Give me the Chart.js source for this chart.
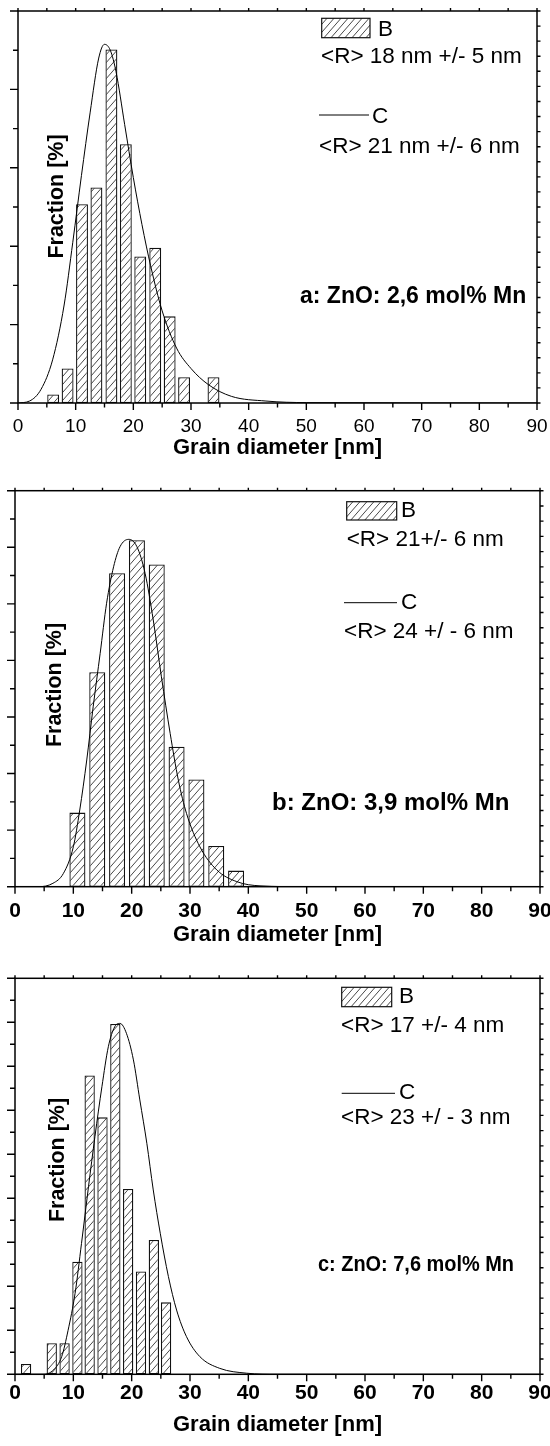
<!DOCTYPE html>
<html>
<head>
<meta charset="utf-8">
<script src="https://cdn.jsdelivr.net/npm/chart.js@4.4.1/dist/chart.umd.min.js"></script>
<style>
  body { margin: 0; background: #fff; }
  .painel { position: absolute; left: 0; width: 550px; }
  canvas { display: block; }
</style>
</head>
<body>
<div class="painel" style="top:0px"><canvas id="graficoA" width="550" height="465"></canvas></div>
<div class="painel" style="top:465px"><canvas id="graficoB" width="550" height="487"></canvas></div>
<div class="painel" style="top:952px"><canvas id="graficoC" width="550" height="494"></canvas></div>
<script>
// rótulos do eixo x (nm)
const rotulosX = [0, 10, 20, 30, 40, 50, 60, 70, 80, 90];

// painel a: ZnO 2,6 mol% Mn
const barrasA_x = [6.1, 8.6, 11.1, 13.6, 16.2, 18.7, 21.2, 23.8, 26.3, 28.8, 33.9];
const barrasA_y = [0.22, 0.88, 5.07, 5.50, 9.02, 6.60, 3.74, 3.96, 2.21, 0.66, 0.66];
const curvaA_x = [0, 2, 4, 6, 8, 9.5, 11, 12.5, 14, 15, 16, 17, 18.5, 20, 21.5, 23, 25, 27.5, 30, 33, 37, 43, 50, 90];
const curvaA_y = [0, 0.05, 0.35, 1.1, 2.5, 4.1, 5.8, 7.4, 8.8, 9.15, 9.0, 8.45, 7.1, 5.75, 4.55, 3.5, 2.35, 1.4, 0.88, 0.47, 0.17, 0.05, 0.01, 0];

// painel b: ZnO 3,9 mol% Mn
const barrasB_x = [10.7, 14.1, 17.5, 20.9, 24.3, 27.7, 31.1, 34.5, 37.9];
const barrasB_y = [2.62, 7.58, 11.08, 12.25, 11.39, 4.95, 3.79, 1.44, 0.57];
const curvaB_x = [0, 4, 6.5, 8.3, 10, 11.1, 12.3, 13.4, 14.6, 15.7, 16.9, 18, 19.5, 20.9, 22.3, 23.7, 25.1, 26.6, 28, 29.4, 31.7, 34.6, 38, 42, 50, 90];
const curvaB_y = [0, 0, 0.12, 0.47, 1.41, 2.71, 4.48, 6.36, 8.25, 10.02, 11.31, 12.02, 12.28, 12.02, 11.08, 9.43, 7.42, 5.42, 3.77, 2.59, 1.41, 0.59, 0.18, 0.03, 0, 0];

// painel c: ZnO 7,6 mol% Mn
const barrasC_x = [1.9, 6.3, 8.5, 10.7, 12.8, 15.0, 17.2, 19.4, 21.6, 23.8, 25.9];
const barrasC_y = [0.47, 1.41, 1.41, 5.12, 13.58, 11.68, 15.92, 8.42, 4.67, 6.11, 3.27];
const curvaC_x = [0, 4.8, 6.6, 8.0, 9.1, 10.3, 11.4, 12.6, 13.7, 14.9, 16.0, 17.1, 18.0, 19.1, 20.3, 21.4, 22.6, 23.7, 24.9, 26.3, 27.7, 29.4, 31.7, 35.1, 39.7, 45, 90];
const curvaC_y = [0, 0, 0.2, 0.8, 2.0, 3.68, 5.95, 8.53, 10.8, 13.07, 14.89, 15.8, 15.95, 15.5, 14.29, 12.47, 10.5, 8.38, 6.41, 4.44, 2.92, 1.71, 0.8, 0.27, 0.05, 0, 0];

const FONTE = "'Liberation Sans', Arial, Helvetica, sans-serif";
Chart.defaults.font.family = FONTE;
Chart.defaults.color = '#000';

// hachura diagonal das barras
function criarHachura(ctx) {
    const tile = document.createElement('canvas');
    tile.width = 7;
    tile.height = 8;
    const g = tile.getContext('2d');
    g.fillStyle = '#fff';
    g.fillRect(0, 0, 7, 8);
    g.strokeStyle = '#333';
    g.lineWidth = 0.9;
    g.beginPath();
    g.moveTo(0, 8); g.lineTo(7, 0);
    g.moveTo(-7, 8); g.lineTo(0, 0);
    g.moveTo(7, 8); g.lineTo(14, 0);
    g.stroke();
    return ctx.createPattern(tile, 'repeat');
}

// moldura, marcas dos eixos, legenda e textos
const molduraPlugin = {
    id: 'moldura',
    afterDraw(chart, args, opts) {
        const { ctx, chartArea, scales } = chart;
        const { left, right, top, bottom } = chartArea;
        const x = scales.x, y = scales.y;
        ctx.save();
        ctx.strokeStyle = '#000';
        ctx.lineWidth = 1.4;
        ctx.beginPath();
        for (let v = 0; v <= 90; v += 5) {
            const px = x.getPixelForValue(v);
            ctx.moveTo(px, bottom);
            ctx.lineTo(px, bottom + (v % 10 === 0 ? 7 : 4.5));
            ctx.moveTo(px, top);
            ctx.lineTo(px, top - 3);
        }
        for (let v = 0; v <= y.max; v++) {
            const py = y.getPixelForValue(v);
            ctx.moveTo(left, py);
            ctx.lineTo(left - (v % 2 === 0 ? 8 : 5), py);
        }
        for (let i = 0; i <= opts.ticksDireita; i++) {
            const py = y.getPixelForValue(y.max * i / opts.ticksDireita);
            ctx.moveTo(right, py);
            ctx.lineTo(right + 3.5, py);
        }
        ctx.stroke();
        ctx.lineWidth = 1.5;
        ctx.strokeRect(left, top, right - left, bottom - top);

        // itens de texto e legenda
        opts.itens.forEach((item) => {
            if (item.tipo === 'amostra') {
                ctx.fillStyle = opts.hachura;
                ctx.fillRect(item.x, item.y, item.w, item.h);
                ctx.lineWidth = 1.2;
                ctx.strokeStyle = '#111';
                ctx.strokeRect(item.x, item.y, item.w, item.h);
            } else if (item.tipo === 'linha') {
                ctx.lineWidth = 1;
                ctx.strokeStyle = '#000';
                ctx.beginPath();
                ctx.moveTo(item.x1, item.y);
                ctx.lineTo(item.x2, item.y);
                ctx.stroke();
            } else {
                ctx.save();
                ctx.fillStyle = '#000';
                ctx.font = item.fonte;
                ctx.textBaseline = 'middle';
                ctx.translate(item.x, item.y);
                if (item.rot) {
                    ctx.rotate(-Math.PI / 2);
                    ctx.textAlign = 'center';
                } else {
                    ctx.textAlign = 'left';
                }
                if (item.maxLargura) {
                    ctx.fillText(item.texto, 0, 0, item.maxLargura);
                } else {
                    ctx.fillText(item.texto, 0, 0);
                }
                ctx.restore();
            }
        });
        ctx.restore();
    }
};

function montarGrafico(idCanvas, bx, by, cx, cy, cfg) {
    const canvas = document.getElementById(idCanvas);
    const ctx = canvas.getContext('2d');
    const hachura = criarHachura(ctx);

    const barras = bx.map((v, i) => ({ x: v, y: by[i] }));
    const curva = cx.map((v, i) => ({ x: v, y: cy[i] }));

    const config = {
        data: {
            datasets: [{
                type: 'line',
                label: 'C',
                data: curva,
                borderColor: '#000',
                borderWidth: 1,
                pointRadius: 0,
                fill: false,
                cubicInterpolationMode: 'monotone',
                order: 0
            }, {
                type: 'bar',
                label: 'B',
                data: barras,
                backgroundColor: hachura,
                borderColor: '#111',
                borderWidth: 1.3,
                borderSkipped: false,
                barPercentage: cfg.larguraBarra,
                categoryPercentage: 1,
                order: 1
            }]
        },
        options: {
            responsive: false,
            animation: false,
            events: [],
            layout: { padding: cfg.padding },
            plugins: {
                legend: { display: false },
                tooltip: { enabled: false },
                moldura: { itens: cfg.itens, hachura: hachura, ticksDireita: 26 }
            },
            scales: {
                x: {
                    type: 'linear',
                    min: 0,
                    max: 90,
                    offset: false,
                    grid: { display: false, drawTicks: false, offset: false },
                    border: { display: false },
                    ticks: {
                        autoSkip: false,
                        maxRotation: 0,
                        padding: cfg.paddingRotulos,
                        font: cfg.fonteRotulos,
                        color: '#000'
                    },
                    title: {
                        display: true,
                        text: 'Grain diameter [nm]',
                        color: '#000',
                        font: { size: 22, weight: 'bold' },
                        padding: { top: 0, bottom: cfg.paddingTitulo }
                    },
                    afterBuildTicks: (s) => { s.ticks = rotulosX.map((v) => ({ value: v })); },
                    afterFit: (s) => {
                        s.height = cfg.alturaEixo;
                        s.paddingLeft = 0;
                        s.paddingRight = 0;
                    }
                },
                y: { min: 0, max: cfg.yMax, display: false }
            }
        },
        plugins: [molduraPlugin]
    };
    return new Chart(ctx, config);
}

const normal = (t) => `${t}px ${FONTE}`;
const negrito = (t) => `bold ${t}px ${FONTE}`;

montarGrafico('graficoA', barrasA_x, barrasA_y, curvaA_x, curvaA_y, {
    padding: { top: 11, left: 18, right: 13, bottom: 0 },
    alturaEixo: 62,
    yMax: 10,
    larguraBarra: 0.825,
    paddingRotulos: 12.6,
    paddingTitulo: 3.4,
    fonteRotulos: { size: 19, weight: 'normal' },
    itens: [
        { tipo: 'amostra', x: 321.7, y: 18.3, w: 48.3, h: 19.4 },
        { tipo: 'texto', texto: 'B', x: 378, y: 29.7, fonte: normal(22.5) },
        { tipo: 'texto', texto: '<R> 18 nm +/- 5 nm', x: 321, y: 56.7, fonte: normal(22.5) },
        { tipo: 'linha', x1: 319, x2: 369, y: 115 },
        { tipo: 'texto', texto: 'C', x: 372, y: 116.3, fonte: normal(22.5) },
        { tipo: 'texto', texto: '<R> 21 nm +/- 6 nm', x: 319, y: 147, fonte: normal(22.5) },
        { tipo: 'texto', texto: 'a: ZnO: 2,6 mol% Mn', x: 300, y: 296.7, fonte: negrito(23) },
        { tipo: 'texto', texto: 'Fraction [%]', x: 57, y: 196.5, fonte: negrito(21.5), rot: true }
    ]
});

montarGrafico('graficoB', barrasB_x, barrasB_y, curvaB_x, curvaB_y, {
    padding: { top: 25.7, left: 15, right: 10, bottom: 0 },
    alturaEixo: 65.3,
    yMax: 14,
    larguraBarra: 0.807,
    paddingRotulos: 12.2,
    paddingTitulo: 3.6,
    fonteRotulos: { size: 21, weight: 'bold' },
    itens: [
        { tipo: 'amostra', x: 346.7, y: 36.7, w: 50, h: 18.3 },
        { tipo: 'texto', texto: 'B', x: 401, y: 46, fonte: normal(22.5) },
        { tipo: 'texto', texto: '<R> 21+/- 6 nm', x: 346.7, y: 75, fonte: normal(22.5) },
        { tipo: 'linha', x1: 344, x2: 397, y: 137.7 },
        { tipo: 'texto', texto: 'C', x: 401, y: 138, fonte: normal(22.5) },
        { tipo: 'texto', texto: '<R> 24 +/ - 6 nm', x: 344, y: 167, fonte: normal(22.5) },
        { tipo: 'texto', texto: 'b: ZnO: 3,9 mol% Mn', x: 272, y: 338.3, fonte: negrito(24) },
        { tipo: 'texto', texto: 'Fraction [%]', x: 55, y: 220, fonte: negrito(21.5), rot: true }
    ]
});

montarGrafico('graficoC', barrasC_x, barrasC_y, curvaC_x, curvaC_y, {
    padding: { top: 26.3, left: 15, right: 10, bottom: 0 },
    alturaEixo: 71.7,
    yMax: 18,
    larguraBarra: 0.84,
    paddingRotulos: 6.3,
    paddingTitulo: 7.4,
    fonteRotulos: { size: 21, weight: 'bold' },
    itens: [
        { tipo: 'amostra', x: 341.7, y: 35.3, w: 50, h: 19.4 },
        { tipo: 'texto', texto: 'B', x: 399, y: 45, fonte: normal(22.5) },
        { tipo: 'texto', texto: '<R> 17 +/- 4 nm', x: 341, y: 74, fonte: normal(22.5) },
        { tipo: 'linha', x1: 341.7, x2: 395, y: 141.3 },
        { tipo: 'texto', texto: 'C', x: 399, y: 140.5, fonte: normal(22.5) },
        { tipo: 'texto', texto: '<R> 23 +/ - 3 nm', x: 341, y: 166, fonte: normal(22.5) },
        { tipo: 'texto', texto: 'c: ZnO: 7,6 mol% Mn', x: 318, y: 313, fonte: negrito(22), maxLargura: 196 },
        { tipo: 'texto', texto: 'Fraction [%]', x: 58, y: 208, fonte: negrito(21.5), rot: true }
    ]
});
</script>
</body>
</html>
